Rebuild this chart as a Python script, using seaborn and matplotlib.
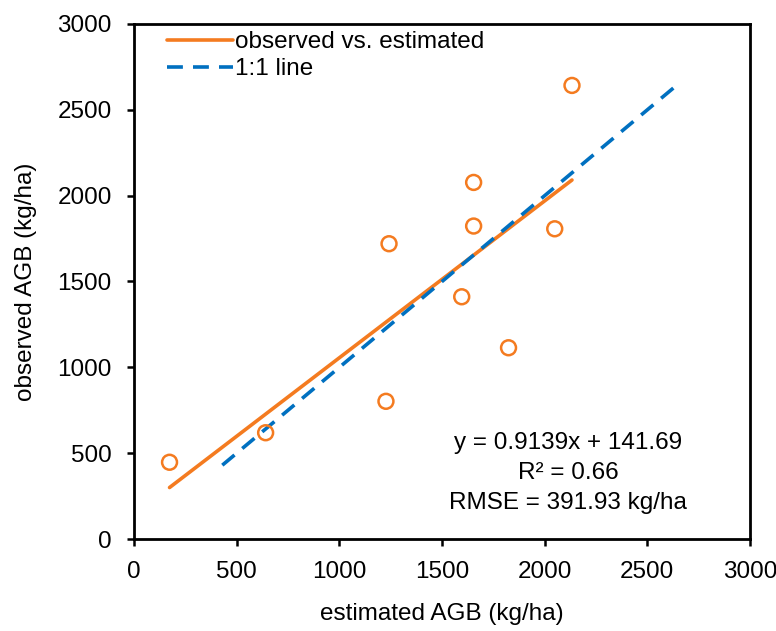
import numpy as np
import pandas as pd
import matplotlib.pyplot as plt
import seaborn as sns

sns.set_style("ticks")
plt.rcParams["font.family"] = ["Liberation Sans", "DejaVu Sans"]
plt.rcParams["text.color"] = "black"
plt.rcParams["axes.labelcolor"] = "black"
plt.rcParams["xtick.color"] = "black"
plt.rcParams["ytick.color"] = "black"

# estimated vs observed AGB (kg/ha)
estimated = [173, 641, 1227, 1242, 1596, 1654, 1654, 1824, 2049, 2133]
observed = [447, 619, 802, 1720, 1411, 1823, 2077, 1114, 1807, 2642]

slope, intercept = 0.9139, 141.69
one_to_one = [430, 2650]

df = pd.DataFrame({"estimated": estimated, "observed": observed})
fit_x = [min(estimated), max(estimated)]
fit = pd.DataFrame({"x": fit_x, "y": [slope * v + intercept for v in fit_x]})
ref = pd.DataFrame({"x": one_to_one, "y": one_to_one})

orange = "#F47B20"
blue = "#0070C0"
fs = 17.5

fig = plt.figure(figsize=(7.76, 6.31), dpi=100)
ax = fig.add_axes([0.1727, 0.1458, 0.7938, 0.8162])

sns.lineplot(data=fit, x="x", y="y", ax=ax, color=orange, linewidth=2.6,
             label="observed vs. estimated")
sns.lineplot(data=ref, x="x", y="y", ax=ax, color=blue, linewidth=2.6,
             dashes=False, label="1:1 line")
ax.lines[1].set_dashes((4.4, 2.8))
sns.scatterplot(data=df, x="estimated", y="observed", ax=ax, s=115,
                facecolor="none", edgecolor=orange, linewidth=1.8, zorder=3)

ax.set_xlim(0, 3000)
ax.set_ylim(0, 3000)
ax.set_xticks(np.arange(0, 3001, 500))
ax.set_yticks(np.arange(0, 3001, 500))
ax.tick_params(labelsize=fs, length=5, width=1.8, direction="out")
ax.tick_params(axis="x", pad=11)
ax.tick_params(axis="y", pad=11)
for s in ax.spines.values():
    s.set_linewidth(2)
    s.set_color("black")
ax.set_xlabel("estimated AGB (kg/ha)", fontsize=fs, labelpad=14)
ax.set_ylabel("observed AGB (kg/ha)", fontsize=fs, labelpad=15)

handles, labels = ax.get_legend_handles_labels()
leg = ax.legend(handles[:2], labels[:2], loc="upper left", frameon=False,
                fontsize=fs, handlelength=2.7, handletextpad=0.1,
                borderaxespad=0.0, labelspacing=0.2,
                bbox_to_anchor=(0.038, 1.005))

ax.text(0.7045, 0.128, "y = 0.9139x + 141.69\nR² = 0.66\nRMSE = 391.93 kg/ha",
        transform=ax.transAxes, ha="center", va="center", fontsize=fs,
        linespacing=1.47)

fig.savefig("out.png", dpi=100)
